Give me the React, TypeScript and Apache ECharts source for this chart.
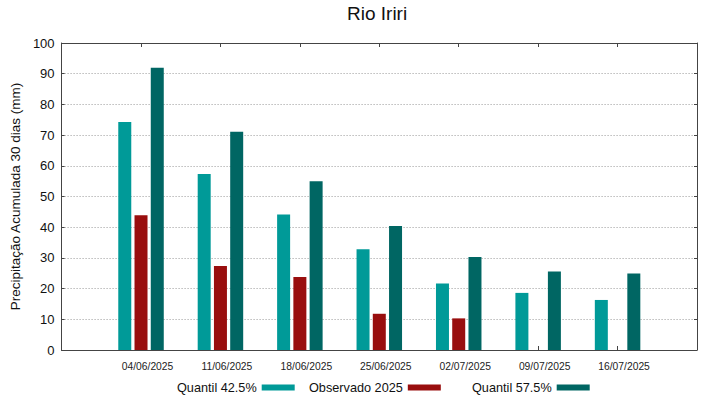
import React, { useEffect, useRef } from "react";
import * as echarts from "echarts";

const dates = ["04/06/2025", "11/06/2025", "18/06/2025", "25/06/2025", "02/07/2025", "09/07/2025", "16/07/2025"];
const quantil425 = [74.3, 57.3, 44.1, 32.8, 21.7, 18.6, 16.3];
const observado2025 = [43.9, 27.4, 23.8, 11.8, 10.3];
const quantil575 = [91.9, 71.1, 55.0, 40.4, 30.3, 25.6, 24.9];
const yTicks = [0, 10, 20, 30, 40, 50, 60, 70, 80, 90, 100];

const FONT = "Liberation Sans, Arial, sans-serif";

export default function App() {
  const ref = useRef<HTMLDivElement>(null);
  useEffect(() => {
    if (!ref.current) return;
    const chart = echarts.init(ref.current, undefined, { renderer: "svg" });
    const toPairs = (arr: number[]) => arr.map((v, i) => [i, v]);
    const axisLine = { show: true, onZero: false, lineStyle: { color: "#444", width: 1 } };
    const legendBase = {
      orient: "horizontal",
      top: 381,
      padding: 0,
      align: "right",
      icon: "rect",
      itemWidth: 33,
      itemHeight: 6,
      selectedMode: false,
      textStyle: { fontFamily: FONT, fontSize: 12.7, color: "#111" },
    };
    chart.setOption({
      animation: false,
      backgroundColor: "#fff",
      textStyle: { fontFamily: FONT },
      title: {
        text: "Rio Iriri",
        left: 347,
        top: 4,
        padding: 0,
        textStyle: { fontFamily: FONT, fontSize: 19, fontWeight: "normal", color: "#111" },
      },
      legend: [
        { ...legendBase, left: 177, data: ["Quantil 42.5%"] },
        { ...legendBase, left: 309, data: ["Observado 2025"] },
        { ...legendBase, left: 472, data: ["Quantil 57.5%"] },
      ],
      grid: { left: 59, right: 22, top: 43, bottom: 49, containLabel: false },
      xAxis: [
        {
          type: "value",
          min: -1,
          max: 7,
          interval: 1,
          axisLine,
          axisTick: { show: true, inside: true, length: 4, lineStyle: { color: "#444" } },
          splitLine: { show: false },
          axisLabel: {
            formatter: (v: number) => (v >= 0 && v < dates.length ? dates[v] : ""),
            fontSize: 10.3,
            color: "#222",
            margin: 11,
            padding: [0, 0, 0, 13],
            fontFamily: FONT,
          },
        },
        {
          type: "value",
          position: "top",
          min: -1,
          max: 7,
          interval: 1,
          axisLine,
          axisTick: { show: true, inside: true, length: 4, lineStyle: { color: "#444" } },
          splitLine: { show: false },
          axisLabel: { show: false },
        },
      ],
      yAxis: [
        {
          type: "value",
          min: yTicks[0],
          max: yTicks[yTicks.length - 1],
          interval: 10,
          name: "Precipitação Acumulada 30 dias (mm)",
          nameLocation: "middle",
          nameRotate: 90,
          nameGap: 36,
          nameTextStyle: { fontFamily: FONT, fontSize: 13.5, color: "#111" },
          axisLine,
          axisTick: { show: true, inside: true, length: 3, lineStyle: { color: "#444" } },
          splitLine: { show: true, lineStyle: { color: "#999", type: [1, 2], width: 1 } },
          axisLabel: { fontSize: 13, color: "#111", margin: 7, fontFamily: FONT },
        },
        {
          type: "value",
          position: "right",
          min: yTicks[0],
          max: yTicks[yTicks.length - 1],
          interval: 10,
          axisLine,
          axisTick: { show: true, inside: true, length: 3, lineStyle: { color: "#444" } },
          splitLine: { show: false },
          axisLabel: { show: false },
        },
      ],
      series: [
        {
          name: "Quantil 42.5%",
          type: "bar",
          data: toPairs(quantil425),
          barWidth: 13,
          barGap: "25%",
          itemStyle: { color: "#009a98" },
        },
        {
          name: "Observado 2025",
          type: "bar",
          data: toPairs(observado2025),
          barWidth: 13,
          barGap: "25%",
          itemStyle: { color: "#990e0e" },
        },
        {
          name: "Quantil 57.5%",
          type: "bar",
          data: toPairs(quantil575),
          barWidth: 13,
          barGap: "25%",
          itemStyle: { color: "#006663" },
        },
      ],
    });
    return () => chart.dispose();
  }, []);
  return <div ref={ref} style={{ width: 719, height: 399, position: "absolute", left: 0, top: 0 }} />;
}
